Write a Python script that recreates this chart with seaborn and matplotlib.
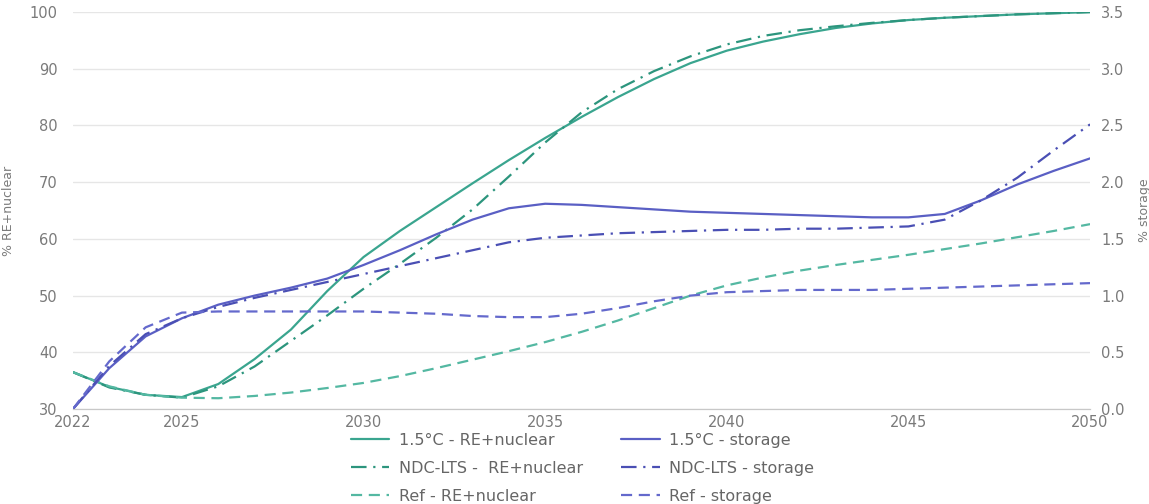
import numpy as np
import pandas as pd
import seaborn as sns
import matplotlib.pyplot as plt

years = list(range(2022, 2051))

# % RE + nuclear (left axis)
re_15 = [36.5, 33.9, 32.5, 32.1, 34.4, 38.8, 44.0, 50.8, 56.8, 61.4, 65.6, 69.8, 73.9,
         77.8, 81.5, 85.0, 88.2, 91.0, 93.2, 94.8, 96.1, 97.2, 98.0, 98.6, 99.0, 99.3,
         99.6, 99.8, 100.0]
re_ndc = [36.5, 33.8, 32.5, 32.0, 34.0, 37.5, 42.0, 46.5, 51.2, 55.6, 60.2, 65.2, 71.0,
          77.0, 82.3, 86.4, 89.6, 92.2, 94.3, 95.8, 96.8, 97.5, 98.1, 98.6, 99.0, 99.3,
          99.6, 99.8, 100.0]
re_ref = [36.5, 34.0, 32.5, 32.0, 31.9, 32.3, 32.9, 33.7, 34.6, 35.8, 37.2, 38.7, 40.2,
          41.8, 43.6, 45.6, 47.8, 50.0, 51.8, 53.2, 54.4, 55.4, 56.3, 57.2, 58.2, 59.2,
          60.3, 61.4, 62.6]

# % storage (right axis)
st_15 = [0.0, 0.36, 0.64, 0.80, 0.92, 1.00, 1.07, 1.15, 1.27, 1.40, 1.54, 1.67, 1.77,
         1.81, 1.80, 1.78, 1.76, 1.74, 1.73, 1.72, 1.71, 1.70, 1.69, 1.69, 1.72, 1.84,
         1.98, 2.10, 2.21]
st_ndc = [0.0, 0.38, 0.66, 0.80, 0.90, 0.98, 1.05, 1.12, 1.19, 1.26, 1.33, 1.40, 1.47,
          1.51, 1.53, 1.55, 1.56, 1.57, 1.58, 1.58, 1.59, 1.59, 1.60, 1.61, 1.67, 1.84,
          2.04, 2.28, 2.51]
st_ref = [0.0, 0.42, 0.72, 0.85, 0.86, 0.86, 0.86, 0.86, 0.86, 0.85, 0.84, 0.82, 0.81,
          0.81, 0.84, 0.89, 0.95, 1.00, 1.03, 1.04, 1.05, 1.05, 1.05, 1.06, 1.07, 1.08,
          1.09, 1.10, 1.11]

left_ticks = [30, 40, 50, 60, 70, 80, 90, 100]
right_ticks = [0.0, 0.5, 1.0, 1.5, 2.0, 2.5, 3.0, 3.5]
x_ticks = [2022, 2025, 2030, 2035, 2040, 2045, 2050]

teal = "#3aa58f"
teal_dark = "#2c957d"
teal_light = "#54b8a2"
blue = "#5a5fc4"
blue_dark = "#4a4fb4"
blue_light = "#6469cc"
grey = "#7a7a7a"

sns.set_style("white")
plt.rcParams['font.family'] = ['DejaVu Sans']

fig, ax = plt.subplots(figsize=(11.49, 5.04), dpi=100)
fig.subplots_adjust(left=0.0635, right=0.9487, top=0.976, bottom=0.1885)
ax2 = ax.twinx()

dashdot = (0, (7, 3, 1, 3))
dashed = (0, (5, 3))

sns.lineplot(x=years, y=re_15, ax=ax, color=teal, lw=1.6, label="1.5°C - RE+nuclear")
sns.lineplot(x=years, y=re_ndc, ax=ax, color=teal_dark, lw=1.6, linestyle=dashdot,
             label="NDC-LTS -  RE+nuclear")
sns.lineplot(x=years, y=re_ref, ax=ax, color=teal_light, lw=1.6, linestyle=dashed,
             label="Ref - RE+nuclear")
sns.lineplot(x=years, y=st_15, ax=ax2, color=blue, lw=1.6, label="1.5°C - storage")
sns.lineplot(x=years, y=st_ndc, ax=ax2, color=blue_dark, lw=1.6, linestyle=dashdot,
             label="NDC-LTS - storage")
sns.lineplot(x=years, y=st_ref, ax=ax2, color=blue_light, lw=1.6, linestyle=dashed,
             label="Ref - storage")

ax.set_xlim(2022, 2050)
ax.set_ylim(30, 100)
ax2.set_ylim(0, 3.5)
ax.set_xticks(x_ticks)
ax.set_yticks(left_ticks)
ax2.set_yticks(right_ticks)
ax2.set_yticklabels([f"{t:.1f}" for t in right_ticks])

ax.grid(axis="y", color="#e6e6e6", lw=1)
ax.set_axisbelow(True)
for a in (ax, ax2):
    for s in ["top", "left", "right"]:
        a.spines[s].set_visible(False)
    a.spines["bottom"].set_color("#c8c8c8")
    a.tick_params(colors=grey, labelsize=10.5, length=0)
ax.tick_params(axis="y", pad=11)
ax2.tick_params(axis="y", pad=8)
ax.tick_params(axis="x", pad=4)

ax.set_ylabel("% RE+nuclear", color=grey, fontsize=9)
ax2.set_ylabel("% storage", color=grey, fontsize=9)
ax.yaxis.set_label_coords(-0.057, 0.5)
ax2.yaxis.set_label_coords(1.047, 0.5)

h1, l1 = ax.get_legend_handles_labels()
h2, l2 = ax2.get_legend_handles_labels()
ax.get_legend().remove()
ax2.get_legend().remove()
fig.legend(h1 + h2, l1 + l2, ncol=2, loc="upper center", bbox_to_anchor=(0.507, 0.17),
           frameon=False, fontsize=11.5, handlelength=2.4, handletextpad=0.6,
           columnspacing=2.4, labelspacing=0.82, labelcolor="#666666")

fig.savefig("out.png", dpi=100)
